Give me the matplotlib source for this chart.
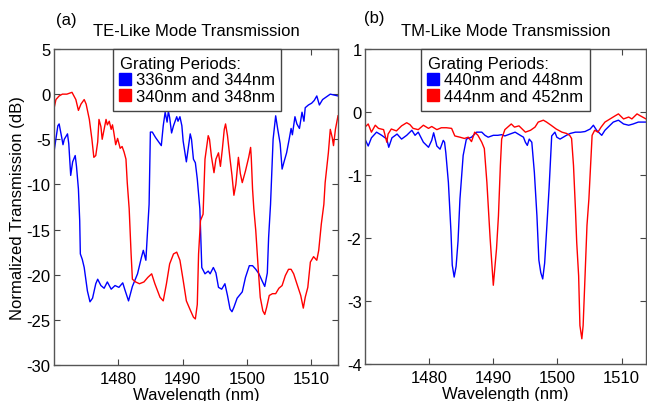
import matplotlib
matplotlib.use("Agg")
import matplotlib.pyplot as plt
from matplotlib.lines import Line2D

plt.rcParams['font.family'] = ['Liberation Sans', 'DejaVu Sans']
plt.rcParams['font.size'] = 12
plt.rcParams['axes.unicode_minus'] = False

# TE-like, gratings 336nm / 344nm (blue)
te_blue_wl = [1470.0, 1470.6, 1470.8, 1471.2, 1471.4, 1471.6, 1472.1, 1472.3, 1472.6, 1472.9,
              1473.3, 1473.5, 1473.8, 1474.0, 1474.1, 1474.4, 1474.7, 1475.2, 1475.6, 1476.0,
              1476.5, 1476.8, 1477.3, 1477.8, 1478.3, 1478.9, 1479.5, 1480.1, 1480.7, 1481.0,
              1481.6, 1482.2, 1483.0, 1483.6, 1483.9, 1484.3, 1484.5, 1484.8, 1485.0, 1485.3,
              1485.8, 1486.2, 1486.7, 1487.0, 1487.3, 1487.6, 1487.8, 1488.0, 1488.3, 1488.6,
              1489.1, 1489.3, 1489.6, 1489.9, 1490.1, 1490.6, 1491.2, 1491.4, 1491.7, 1492.0,
              1492.3, 1492.7, 1492.9, 1493.0, 1493.5, 1494.0, 1494.3, 1494.8, 1495.2, 1495.6,
              1496.1, 1496.6, 1497.0, 1497.4, 1497.7, 1498.0, 1498.5, 1499.3, 1499.8, 1500.4,
              1500.9, 1501.4, 1501.9, 1502.4, 1502.8, 1503.2, 1503.4, 1503.7, 1504.1, 1504.5,
              1504.8, 1505.2, 1505.5, 1505.8, 1506.2, 1506.6, 1506.9, 1507.1, 1507.5, 1507.8,
              1508.2, 1508.6, 1508.9, 1509.1, 1509.6, 1510.1, 1510.5, 1510.9, 1511.3, 1511.8,
              1512.4, 1513.0, 1513.6, 1514.2]
te_blue_db = [-6.4, -3.5, -3.3, -4.8, -5.6, -5.0, -4.4, -5.5, -9.0, -7.5,
              -6.8, -8.0, -10.5, -14.0, -17.7, -18.3, -19.2, -21.8, -23.0, -22.6,
              -21.0, -20.5, -21.2, -21.5, -20.8, -21.6, -21.2, -21.4, -20.9, -21.6,
              -22.9, -21.3, -19.9, -18.1, -17.3, -18.4, -15.9, -12.2, -4.2, -4.2,
              -4.8, -5.2, -5.7, -3.5, -2.0, -3.1, -1.9, -2.6, -4.3, -3.5,
              -2.5, -3.0, -2.5, -3.5, -5.2, -7.5, -4.4, -5.0, -7.2, -7.6,
              -9.4, -12.7, -17.0, -19.2, -19.9, -19.6, -19.9, -19.2, -19.8, -21.4,
              -21.6, -21.0, -22.3, -23.8, -24.1, -23.6, -22.6, -21.9, -20.3, -19.0,
              -19.0, -19.4, -19.9, -20.7, -21.3, -19.8, -15.9, -12.2, -5.0, -2.4,
              -3.8, -5.5, -8.3, -7.5, -6.5, -5.0, -3.8, -4.5, -2.5, -3.3,
              -3.8, -2.0, -3.0, -1.5, -1.2, -1.0, -0.7, -0.2, -1.2, -0.6,
              -0.3, 0.0, -0.1, -0.2]

# TE-like, gratings 340nm / 348nm (red)
te_red_wl = [1470.0, 1470.3, 1470.8, 1471.3, 1472.0, 1472.8, 1473.4, 1473.8, 1474.2, 1474.7,
             1475.0, 1475.5, 1475.9, 1476.2, 1476.5, 1476.8, 1477.0, 1477.3, 1477.5, 1477.8,
             1478.1, 1478.3, 1478.6, 1478.9, 1479.1, 1479.3, 1479.6, 1479.9, 1480.3, 1480.6,
             1480.9, 1481.2, 1481.4, 1481.7, 1482.0, 1482.2, 1482.7, 1483.3, 1484.0, 1484.6,
             1485.2, 1485.7, 1486.5, 1487.0, 1487.5, 1488.0, 1488.6, 1489.1, 1489.6, 1490.1,
             1490.6, 1491.2, 1491.7, 1492.0, 1492.3, 1492.5, 1492.8, 1493.2, 1493.5, 1494.0,
             1494.2, 1494.5, 1494.9, 1495.2, 1495.6, 1495.9, 1496.2, 1496.5, 1496.7, 1497.0,
             1497.4, 1497.7, 1498.0, 1498.3, 1498.7, 1499.0, 1499.3, 1499.8, 1500.3, 1500.6,
             1500.7, 1500.9, 1501.1, 1501.4, 1501.8, 1502.1, 1502.5, 1502.8, 1503.1, 1503.5,
             1504.0, 1504.5, 1505.0, 1505.5, 1506.0, 1506.5, 1506.9, 1507.3, 1507.8, 1508.4,
             1508.8, 1509.1, 1509.5, 1509.9, 1510.4, 1510.9, 1511.2, 1511.6, 1512.0, 1512.2,
             1512.7, 1513.0, 1513.3, 1513.5, 1513.8, 1514.2]
te_red_db = [-1.6, -0.6, -0.2, 0.0, 0.0, 0.2, -0.6, -1.8, -1.1, -0.6,
             -1.1, -2.8, -5.0, -7.0, -6.8, -5.3, -2.8, -3.6, -5.0, -3.9,
             -2.8, -3.4, -3.0, -3.9, -3.4, -4.2, -5.6, -4.9, -6.0, -5.8,
             -6.4, -7.2, -9.8, -12.7, -17.7, -20.5, -20.8, -21.0, -20.8, -20.3,
             -19.9, -21.0, -22.5, -22.9, -21.0, -18.8, -17.7, -17.5, -18.4, -20.6,
             -22.9, -23.9, -24.7, -24.9, -23.3, -17.7, -14.0, -13.3, -7.2, -4.6,
             -5.0, -6.9, -8.7, -7.2, -6.5, -8.0, -6.1, -3.9, -3.3, -4.6,
             -7.2, -9.0, -11.2, -10.0, -7.0, -8.8, -9.8, -8.5, -7.0, -5.9,
             -7.0, -10.5, -12.7, -15.1, -19.5, -22.5, -24.0, -24.4, -23.6, -22.3,
             -22.1, -22.1, -21.5, -21.2, -20.1, -19.4, -19.4, -19.9, -21.0, -22.3,
             -23.7, -22.5, -21.4, -18.6, -18.0, -18.4, -17.3, -14.4, -12.2, -9.8,
             -6.5, -3.9, -4.8, -5.7, -3.9, -2.4]

# TM-like, gratings 440nm / 448nm (blue)
tm_blue_wl = [1470.0, 1470.5, 1471.0, 1471.8, 1472.6, 1473.4, 1473.7, 1474.2, 1475.0, 1475.7,
              1476.5, 1477.3, 1477.8, 1478.3, 1479.1, 1479.9, 1480.4, 1480.7, 1481.2, 1481.7,
              1482.2, 1482.4, 1482.6, 1483.0, 1483.4, 1483.6, 1483.9, 1484.2, 1484.5, 1484.8,
              1485.3, 1485.8, 1486.6, 1487.4, 1488.2, 1488.7, 1489.2, 1490.0, 1490.7, 1491.3,
              1491.8, 1492.6, 1493.4, 1494.2, 1494.7, 1495.0, 1495.3, 1495.6, 1496.0, 1496.4,
              1496.8, 1497.1, 1497.4, 1497.7, 1498.0, 1498.3, 1498.7, 1499.1, 1499.6, 1499.9,
              1500.4, 1500.9, 1501.4, 1502.0, 1502.8, 1503.6, 1504.3, 1505.1, 1505.6, 1506.1,
              1506.9, 1507.4, 1507.9, 1508.7, 1509.5, 1510.3, 1511.1, 1511.8, 1512.6, 1513.8]
tm_blue_db = [-0.43, -0.54, -0.41, -0.32, -0.37, -0.43, -0.56, -0.41, -0.35, -0.43,
              -0.37, -0.29, -0.37, -0.32, -0.48, -0.56, -0.45, -0.33, -0.54, -0.59,
              -0.45, -0.48, -0.65, -1.12, -1.90, -2.43, -2.62, -2.45, -2.05, -1.38,
              -0.69, -0.43, -0.40, -0.32, -0.32, -0.37, -0.40, -0.37, -0.37, -0.36,
              -0.38, -0.35, -0.32, -0.37, -0.40, -0.48, -0.53, -0.43, -0.48, -0.96,
              -1.65, -2.35, -2.55, -2.65, -2.40, -1.89, -1.20, -0.38, -0.32, -0.40,
              -0.43, -0.40, -0.37, -0.34, -0.32, -0.32, -0.31, -0.27, -0.21, -0.29,
              -0.37, -0.29, -0.24, -0.16, -0.13, -0.19, -0.21, -0.19, -0.16, -0.16]

# TM-like, gratings 444nm / 452nm (red)
tm_red_wl = [1470.0, 1470.5, 1471.0, 1471.6, 1472.1, 1472.9, 1473.4, 1473.6, 1474.1, 1474.9,
             1475.7, 1476.5, 1477.0, 1477.5, 1478.3, 1479.1, 1479.9, 1480.4, 1481.2, 1481.9,
             1482.7, 1483.5, 1484.0, 1484.8, 1485.5, 1486.1, 1486.6, 1487.1, 1487.6, 1488.2,
             1488.6, 1489.0, 1489.5, 1490.0, 1490.5, 1490.8, 1491.1, 1491.3, 1491.8, 1492.8,
             1493.3, 1494.0, 1495.0, 1495.8, 1496.5, 1497.0, 1497.8, 1498.3, 1499.0, 1499.8,
             1500.7, 1501.4, 1501.9, 1502.2, 1502.5, 1502.8, 1503.0, 1503.3, 1503.5, 1503.8,
             1504.0, 1504.3, 1504.6, 1504.9, 1505.4, 1505.8, 1506.3, 1506.8, 1507.4, 1508.2,
             1509.0, 1509.5, 1510.3, 1511.1, 1511.6, 1512.4, 1512.9, 1513.8]
tm_red_db = [-0.24, -0.19, -0.32, -0.21, -0.26, -0.28, -0.48, -0.35, -0.27, -0.30,
             -0.22, -0.17, -0.20, -0.26, -0.28, -0.21, -0.26, -0.23, -0.28, -0.25,
             -0.25, -0.26, -0.38, -0.40, -0.42, -0.40, -0.47, -0.32, -0.37, -0.48,
             -0.58, -1.12, -2.00, -2.75, -2.17, -1.65, -0.85, -0.43, -0.28, -0.19,
             -0.24, -0.22, -0.32, -0.29, -0.24, -0.16, -0.13, -0.16, -0.21, -0.27,
             -0.32, -0.34, -0.37, -0.42, -0.85, -1.54, -2.07, -2.60, -3.39, -3.60,
             -3.39, -2.60, -1.80, -1.38, -0.37, -0.29, -0.32, -0.24, -0.16, -0.11,
             -0.06, -0.03, -0.11, -0.08, -0.11, -0.03, -0.06, -0.11]

x_ticks = [1480, 1490, 1500, 1510]
te_yticks = [5, 0, -5, -10, -15, -20, -25, -30]
tm_yticks = [1, 0, -1, -2, -3, -4]

fig = plt.figure(figsize=(6.47, 4.02), dpi=100)
ax1 = fig.add_axes([54 / 647, 36 / 402, 284 / 647, 316 / 402])
ax2 = fig.add_axes([365 / 647, 37 / 402, 281 / 647, 315 / 402])

ax1.plot(te_blue_wl, te_blue_db, color='#0000ff', lw=1.0)
ax1.plot(te_red_wl, te_red_db, color='#ff0000', lw=1.0)
ax2.plot(tm_blue_wl, tm_blue_db, color='#0000ff', lw=1.0)
ax2.plot(tm_red_wl, tm_red_db, color='#ff0000', lw=1.0)

ax1.set_xlim(1470, 1514.2)
ax1.set_ylim(-30, 5)
ax1.set_yticks(te_yticks)
ax2.set_xlim(1470, 1513.8)
ax2.set_ylim(-4, 1)
ax2.set_yticks(tm_yticks)

labels = [["336nm and 344nm", "340nm and 348nm"], ["440nm and 448nm", "444nm and 452nm"]]
titles = ["TE-Like Mode Transmission", "TM-Like Mode Transmission"]
for ax, lab, ttl, lx in zip([ax1, ax2], labels, titles, [0.208, 0.201]):
    ax.set_xticks(x_ticks)
    ax.tick_params(direction='in', length=4, width=0.8, color='#444444',
                   top=True, right=True, labelsize=12, pad=4)
    ax.tick_params(axis='y', pad=2.5)
    for s in ax.spines.values():
        s.set_color('#555555')
        s.set_linewidth(1.0)
    ax.set_xlabel("Wavelength (nm)", fontsize=12, labelpad=1)
    ax.set_title(ttl, fontsize=12, pad=10)
    handles = [Line2D([], [], marker='s', color='#0000ff', linestyle='None', markersize=8),
               Line2D([], [], marker='s', color='#ff0000', linestyle='None', markersize=8)]
    leg = ax.legend(handles, lab, title="Grating Periods:", title_fontsize=12, fontsize=12,
                    loc='upper left', bbox_to_anchor=(lx, 1.0), borderaxespad=0,
                    frameon=True, fancybox=False, framealpha=1, edgecolor='#444444',
                    handlelength=0.6, handletextpad=0.35, borderpad=0.4,
                    labelspacing=0.1, alignment='left')
    leg.get_frame().set_linewidth(1.0)

ax1.set_ylabel("Normalized Transmission (dB)", fontsize=12, labelpad=1)

fig.text(66 / 647, 1 - 20 / 402, "(a)", fontsize=12, ha='center', va='center')
fig.text(374 / 647, 1 - 18 / 402, "(b)", fontsize=12, ha='center', va='center')

plt.savefig("out.png", dpi=100)
plt.close()
